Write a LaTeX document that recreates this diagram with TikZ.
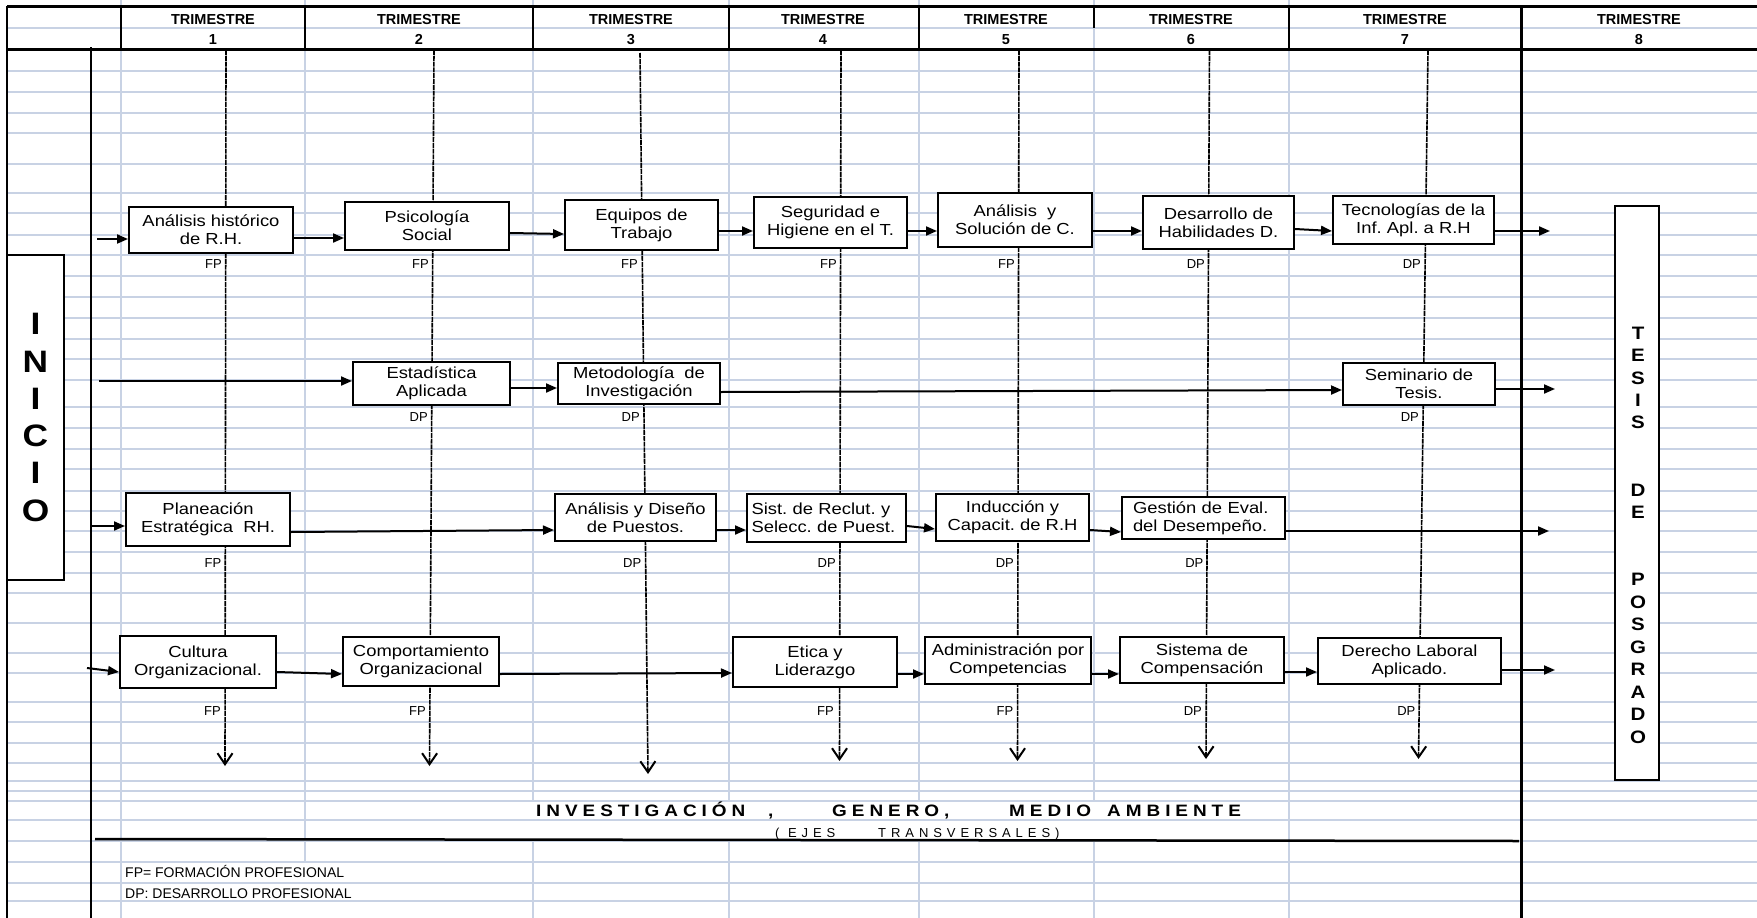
\documentclass[tikz,border=0pt]{standalone}
\usepackage{fontspec}
\setmainfont{Liberation Sans}
\newfontfamily\boxfont{Liberation Sans}[FakeStretch=1.15]
\newfontfamily\widebold{Liberation Sans}[FakeStretch=1.14]
\newfontfamily\spacedfont{Liberation Sans}[FakeStretch=1.15,LetterSpace=30]
\newfontfamily\spacedthin{Liberation Sans}[LetterSpace=38]
\usetikzlibrary{arrows.meta}
\definecolor{gridc}{RGB}{200,210,228}
\begin{document}
\frenchspacing
\begin{tikzpicture}[x=1pt,y=-1pt,
  gridline/.style={draw=gridc,line width=1.6pt},
  blackrule/.style={draw=black,line width=3pt},
  course/.style={draw=black,fill=white,line width=2pt,inner sep=0pt,align=center,
    font=\boxfont\fontsize{16}{18}\selectfont\frenchspacing},
  flow/.style={draw=black,line width=2pt,-{Triangle[length=11pt,width=9pt]}},
  curline/.style={draw=black,line width=1.6pt,dash pattern=on 5pt off 0.8pt,
    -{Straight Barb[length=11pt,width=15pt,line width=2pt]}},
  tagtxt/.style={anchor=base east,inner sep=0pt,font=\fontsize{13}{15}\selectfont},
  headtxt/.style={anchor=base,inner sep=0pt,font=\fontsize{14.5}{16}\selectfont\bfseries},
  axistxt/.style={anchor=base west,inner sep=0pt,font=\spacedfont\fontsize{16.5}{18}\selectfont\bfseries},
  subtxt/.style={anchor=base west,inner sep=0pt,font=\spacedthin\fontsize{13}{15}\selectfont},
  legtxt/.style={anchor=base west,inner sep=0pt,font=\fontsize{14}{16}\selectfont}
]
\useasboundingbox (0,0) rectangle (1757,918);
\fill[white] (0,0) rectangle (1757,918);

% ---------- spreadsheet grid ----------
\foreach \y in {28,71,92,113,133,164,193,213,235,255,276,297,318,339,359,380,407,428,449,469,491,511,531,552,573,593,623,653,673,702,722,743,763,781,791,801,820,841,862,883,901}
  \draw[gridline] (7,\y) -- (1757,\y);
\foreach \x in {121,1289} \draw[gridline] (\x,0) -- (\x,918);
\draw[gridline] (305,0) -- (305,862);
\foreach \x in {533,729,919,1094} {
  \draw[gridline] (\x,0) -- (\x,801);
  \draw[gridline] (\x,841) -- (\x,918);
}

% ---------- header frame ----------
\draw[blackrule] (7,6) -- (1757,6);
\draw[blackrule] (7,49) -- (1757,49);
\foreach \x in {121,305,533,729,919,1289} \draw[line width=2.5pt] (\x,6) -- (\x,49);
\draw[line width=2.5pt] (1094,6) -- (1094,28);
\draw[line width=2.5pt] (7,6) -- (7,918);
\draw[line width=2pt] (91,47) -- (91,918);
\draw[blackrule] (1521,6) -- (1521,918);
\draw[line width=2.5pt] (95,839) -- (1519,841);

\foreach \c/\n in {213/1,419/2,631/3,823/4,1006/5,1191/6,1405/7,1639/8} {
  \node[headtxt] (tri\n) at (\c,24.2) {TRIMESTRE};
  \node[headtxt] (num\n) at (\c,44.2) {\n};
}

% ---------- INICIO / TESIS ----------
\node[draw=black,fill=white,line width=2pt,minimum width=57pt,minimum height=325pt,inner sep=0pt,
  align=center,font=\widebold\fontsize{31}{37.3}\selectfont\bfseries] (inicio) at (35.5,417.5)
  {I\\N\\I\\C\\I\\O};
\node[draw=black,fill=white,line width=2pt,minimum width=44pt,minimum height=574pt,inner sep=0pt] (tesis) at (1637,493) {};
\node[align=center,inner sep=0pt,font=\widebold\fontsize{18}{22.44}\selectfont\bfseries] (tesistxt) at (1638,535)
  {T\\E\\S\\I\\S\\[44.88pt]D\\E\\[44.88pt]P\\O\\S\\G\\R\\A\\D\\O};

% ---------- vertical trimester lines ----------
\coordinate (t1) at (226,50);   \coordinate (e1) at (225,766);
\coordinate (t2) at (434,50);   \coordinate (e2) at (429.5,766);
\coordinate (t3) at (640,53);   \coordinate (e3) at (648,774);
\coordinate (t4) at (841,50);   \coordinate (e4) at (839.5,761);
\coordinate (t5) at (1019,50);  \coordinate (e5) at (1017.5,761);
\coordinate (t6) at (1209.5,50);\coordinate (e6) at (1206,759);
\coordinate (t7) at (1428,50);  \coordinate (e7) at (1418.5,759);
\foreach \i in {1,...,7} \draw[curline] (t\i) -- (e\i);

% ---------- row 1 ----------
\node[course,minimum width=164pt,minimum height=46pt] (b11) at (211,230) {Análisis histórico\\de R.H.};
\node[course,minimum width=164pt,minimum height=48pt] (b12) at (427,226) {Psicología\\Social};
\node[course,minimum width=153pt,minimum height=50pt] (b13) at (641.5,225) {Equipos de\\Trabajo};
\node[course,minimum width=153pt,minimum height=51pt] (b14) at (830.5,222.5) {Seguridad e\\Higiene en el\ T.};
\node[course,minimum width=154pt,minimum height=54pt] (b15) at (1015,220) {Análisis~~y\\Solución de C.};
\node[course,minimum width=151pt,minimum height=53pt] (b16) at (1218.5,222.5) {Desarrollo de\\Habilidades D.};
\node[course,minimum width=161pt,minimum height=48pt] (b17) at (1413.5,220) {Tecnologías de la\\Inf. Apl. a R.H};

% ---------- row 2 ----------
\node[course,minimum width=157pt,minimum height=43pt] (b22) at (431.5,383.5) {Estadística\\Aplicada};
\node[course,minimum width=162pt,minimum height=41pt] (b23) at (639,383.5) {Metodología~~de\\Investigación};
\node[course,minimum width=152pt,minimum height=42pt] (b27) at (1419,384) {Seminario de\\Tesis.};

% ---------- row 3 ----------
\node[course,minimum width=164pt,minimum height=53pt] (b31) at (208,519.5) {Planeación\\Estratégica~~RH.};
\node[course,minimum width=161pt,minimum height=47pt] (b33) at (635.5,517.5) {Análisis y Diseño\\de Puestos.};
\node[course,align=left,text width=150pt,inner xsep=4.5pt,minimum height=48pt] (b34) at (826.5,518) {Sist. de Reclut. y\\Selecc. de Puest.};
\node[course,minimum width=153pt,minimum height=47pt] (b35) at (1012.5,517.5) {Inducción y\\Capacit. de R.H};
\node[course,align=left,text width=141pt,inner xsep=11pt,minimum height=42pt] (b36) at (1203.5,518) {Gestión de Eval.\\del Desempeño.};

% ---------- row 4 ----------
\node[course,minimum width=156pt,minimum height=52pt] (b41) at (198,662) {Cultura\\Organizacional.};
\node[course,minimum width=156pt,minimum height=49pt] (b42) at (421,661.5) {Comportamiento\\Organizacional};
\node[course,minimum width=164pt,minimum height=50pt] (b44) at (815,662) {Etica y\\Liderazgo};
\node[course,minimum width=166pt,minimum height=47pt] (b45) at (1008,660.5) {Administración por\\Competencias};
\node[course,minimum width=164pt,minimum height=46pt] (b46) at (1202,660) {Sistema de\\Compensación};
\node[course,minimum width=183pt,minimum height=46pt] (b47) at (1409.5,661) {Derecho Laboral\\Aplicado.};

% ---------- flow arrows ----------
\coordinate (in1) at (97,239);
\coordinate (out1) at (1550,231);
\draw[flow] (in1) -- (b11.west |- in1);
\draw[flow] (b11.east |- 0,238) -- (b12.west |- 0,238);
\draw[flow] (b12.east |- 0,233) -- (b13.west |- 0,234);
\draw[flow] (b13.east |- 0,231) -- (b14.west |- 0,231);
\draw[flow] (b14.east |- 0,231) -- (b15.west |- 0,231);
\draw[flow] (b15.east |- 0,231) -- (b16.west |- 0,231);
\draw[flow] (b16.east |- 0,229) -- (b17.west |- 0,231);
\draw[flow] (b17.east |- out1) -- (out1);

\coordinate (in2) at (99,381);
\coordinate (out2) at (1555,389);
\draw[flow] (in2) -- (b22.west |- in2);
\draw[flow] (b22.east |- 0,388) -- (b23.west |- 0,388);
\draw[flow] (b23.east |- 0,392) -- (b27.west |- 0,390);
\draw[flow] (b27.east |- out2) -- (out2);

\coordinate (in3) at (91,526);
\coordinate (out3) at (1549,531);
\draw[flow] (in3) -- (b31.west |- in3);
\draw[flow] (b31.east |- 0,532) -- (b33.west |- 0,530);
\draw[flow] (b33.east |- 0,530) -- (b34.west |- 0,530);
\draw[flow] (b34.east |- 0,526) -- (b35.west |- 0,529);
\draw[flow] (b35.east |- 0,530) -- (b36.west |- 0,532);
\draw[flow] (b36.east |- out3) -- (out3);

\coordinate (in4) at (87,668);
\coordinate (out4) at (1555,670);
\draw[flow] (in4) -- (b41.west |- 0,672);
\draw[flow] (b41.east |- 0,672) -- (b42.west |- 0,674);
\draw[flow] (b42.east |- 0,674) -- (b44.west |- 0,673);
\draw[flow] (b44.east |- 0,674) -- (b45.west |- 0,674);
\draw[flow] (b45.east |- 0,674) -- (b46.west |- 0,674);
\draw[flow] (b46.east |- 0,672) -- (b47.west |- 0,672);
\draw[flow] (b47.east |- out4) -- (out4);

% ---------- FP / DP tags ----------
\node[tagtxt] (l11) at (222,268.7) {FP};
\node[tagtxt] (l12) at (429,268.7) {FP};
\node[tagtxt] (l13) at (638,268.7) {FP};
\node[tagtxt] (l14) at (837,268.7) {FP};
\node[tagtxt] (l15) at (1015,268.7) {FP};
\node[tagtxt] (l16) at (1205,268.7) {DP};
\node[tagtxt] (l17) at (1421,268.7) {DP};
\node[tagtxt] (l22) at (428,421.7) {DP};
\node[tagtxt] (l23) at (640,421.7) {DP};
\node[tagtxt] (l27) at (1419,421.7) {DP};
\node[tagtxt] (l31) at (221.5,567.4) {FP};
\node[tagtxt] (l33) at (641.5,567.4) {DP};
\node[tagtxt] (l34) at (836,567.4) {DP};
\node[tagtxt] (l35) at (1014,567.4) {DP};
\node[tagtxt] (l36) at (1203.5,567.4) {DP};
\node[tagtxt] (l41) at (221,715.7) {FP};
\node[tagtxt] (l42) at (426,715.7) {FP};
\node[tagtxt] (l44) at (834,715.7) {FP};
\node[tagtxt] (l45) at (1013.5,715.7) {FP};
\node[tagtxt] (l46) at (1202,715.7) {DP};
\node[tagtxt] (l47) at (1415.5,715.7) {DP};

% ---------- transversal axes ----------
\node[axistxt] (ax1) at (536,816) {INVESTIGACIÓN};
\node[axistxt] (ax2) at (768,816) {,};
\node[axistxt] (ax3) at (832,816) {GENERO,};
\node[axistxt] (ax4) at (1009,816) {MEDIO};
\node[axistxt] (ax5) at (1107,816) {AMBIENTE};
\node[subtxt] (ej1) at (775,837) {( EJES};
\node[subtxt] (ej2) at (878,837) {TRANSVERSALES)};

% ---------- legend ----------
\node[legtxt] (leg1) at (125,877) {FP= FORMACIÓN PROFESIONAL};
\node[legtxt] (leg2) at (125,898) {DP: DESARROLLO PROFESIONAL};
\end{tikzpicture}
\end{document}
